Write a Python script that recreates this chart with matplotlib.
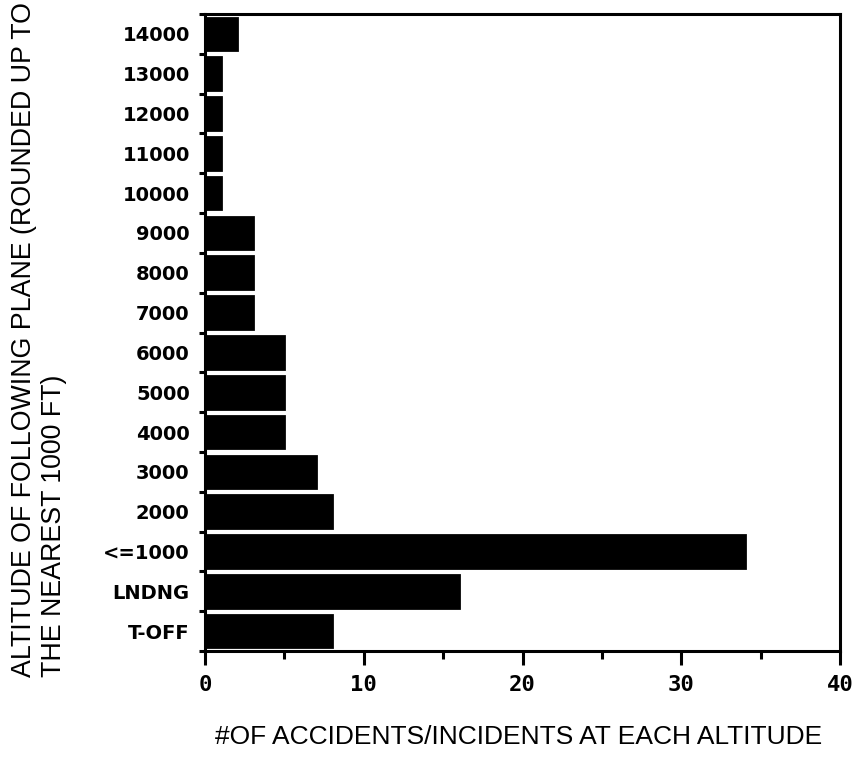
import matplotlib
matplotlib.use("Agg")
import matplotlib.pyplot as plt
import numpy as np

# altitude categories, bottom to top
categories = ["T-OFF", "LNDNG", "<=1000", "2000", "3000", "4000", "5000", "6000",
              "7000", "8000", "9000", "10000", "11000", "12000", "13000", "14000"]
counts = [8, 16, 34, 8, 7, 5, 5, 5, 3, 3, 3, 1, 1, 1, 1, 2]
xticks = [0, 10, 20, 30, 40]
xminor = [5, 15, 25, 35]

plt.rcParams['font.family'] = ['Liberation Sans', 'DejaVu Sans']

W, H = 859, 765
fig = plt.figure(figsize=(W / 100, H / 100), dpi=100)
# axes box in pixels: left 205, right 840, top 14, bottom 651
ax = fig.add_axes([205 / W, 1 - 651 / H, (840 - 205) / W, (651 - 14) / H])

y = np.arange(len(categories))
ax.barh(y, counts, height=0.82, color='black', edgecolor='black', linewidth=2)

ax.set_xlim(0, 40)
ax.set_ylim(-0.5, len(categories) - 0.5)

ax.set_xticks(xticks)
ax.set_xticklabels([str(t) for t in xticks], fontsize=16, fontweight='bold',
                   family='DejaVu Sans Mono')
ax.set_xticks(xminor, minor=True)
ax.tick_params(axis='x', which='major', length=10, width=2.2, direction='out', pad=7)
ax.tick_params(axis='x', which='minor', length=6, width=2.2, direction='out')

ax.set_yticks(y)
ax.set_yticklabels(categories, fontsize=14, fontweight='bold', family='DejaVu Sans')
ax.set_yticks(np.arange(-0.5, len(categories)), minor=True)
ax.tick_params(axis='y', which='major', length=0, pad=11)
ax.tick_params(axis='y', which='minor', length=4, width=2.2, direction='out')

for s in ax.spines.values():
    s.set_linewidth(2.2)

fig.text(39 / W, 1 - 677 / H,
         "ALTITUDE OF FOLLOWING PLANE (ROUNDED UP TO\nTHE NEAREST 1000 FT)",
         rotation=90, ha='center', va='bottom', multialignment='left',
         fontsize=19.3, linespacing=1.2)
fig.text(519 / W, 1 - 737 / H, "#OF ACCIDENTS/INCIDENTS AT EACH ALTITUDE",
         ha='center', va='center', fontsize=19)

fig.savefig("out.png", dpi=100)
